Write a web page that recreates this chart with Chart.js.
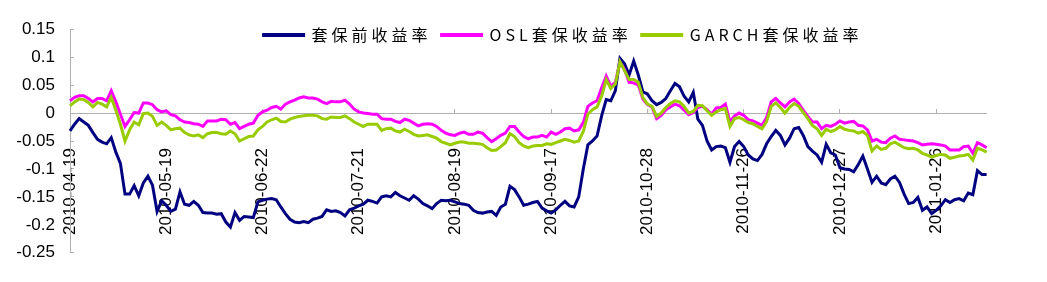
<!DOCTYPE html>
<html>
<head>
<meta charset="utf-8">
<script src="https://cdn.jsdelivr.net/npm/chart.js@4/dist/chart.umd.min.js"></script>
<style>
  html, body { margin: 0; padding: 0; background: #fff; }
  #wrap { width: 1047px; height: 282px; }
</style>
</head>
<body>
<div id="wrap"><canvas id="chart" width="1047" height="282"></canvas></div>
<script>
// x axis: one label every 21 trading days
const tickLabels = ["2010-04-19", "2010-05-19", "2010-06-22", "2010-07-21", "2010-08-19",
  "2010-09-17", "2010-10-28", "2010-11-26", "2010-12-27", "2011-01-26"];
const tickEvery = 21;

const seriesNames = ["套保前收益率", "OSL套保收益率", "GARCH套保收益率"];

const unhedged = [
  -0.032, -0.020, -0.010, -0.016, -0.022, -0.035, -0.047, -0.052, -0.055, -0.044,
  -0.070, -0.090, -0.145, -0.145, -0.130, -0.148, -0.125, -0.113, -0.129, -0.176,
  -0.157, -0.165, -0.176, -0.172, -0.141, -0.163, -0.165, -0.158, -0.165, -0.178,
  -0.179, -0.179, -0.181, -0.180, -0.195, -0.204, -0.178, -0.192, -0.185, -0.186,
  -0.187, -0.159, -0.156, -0.154, -0.153, -0.155, -0.168, -0.180, -0.190, -0.195,
  -0.196, -0.194, -0.196, -0.190, -0.188, -0.185, -0.173, -0.176, -0.175, -0.178,
  -0.184, -0.173, -0.170, -0.166, -0.163, -0.156, -0.158, -0.161, -0.150, -0.148,
  -0.150, -0.142, -0.148, -0.152, -0.156, -0.148, -0.154, -0.162, -0.166, -0.171,
  -0.162, -0.156, -0.157, -0.156, -0.159, -0.162, -0.163, -0.165, -0.174, -0.178,
  -0.179, -0.177, -0.176, -0.183, -0.168, -0.163, -0.131, -0.137, -0.150, -0.165,
  -0.163, -0.160, -0.158, -0.170, -0.175, -0.179, -0.173, -0.165, -0.158, -0.166,
  -0.168, -0.150, -0.100, -0.057, -0.050, -0.041, -0.005, 0.024, 0.022, 0.040,
  0.098, 0.088, 0.068, 0.093, 0.068, 0.038, 0.034, 0.022, 0.015, 0.019,
  0.026, 0.040, 0.053, 0.047, 0.030, 0.020, 0.037, -0.011, -0.022, -0.050,
  -0.066, -0.060, -0.059, -0.062, -0.088, -0.060, -0.051, -0.060, -0.075, -0.082,
  -0.085, -0.074, -0.055, -0.042, -0.031, -0.040, -0.057, -0.045, -0.028, -0.026,
  -0.040, -0.060, -0.068, -0.075, -0.088, -0.056, -0.071, -0.075, -0.098, -0.100,
  -0.101, -0.105, -0.092, -0.077, -0.100, -0.124, -0.113, -0.125, -0.128, -0.118,
  -0.113, -0.124, -0.145, -0.162, -0.160, -0.151, -0.174, -0.168, -0.180, -0.174,
  -0.166, -0.155, -0.160, -0.155, -0.153, -0.157, -0.143, -0.146, -0.103, -0.110,
  -0.110
];

const oslHedged = [
  0.022, 0.028, 0.031, 0.031, 0.026, 0.020, 0.026, 0.026, 0.022, 0.040,
  0.020, -0.002, -0.024, -0.012, 0.001, 0.000, 0.018, 0.018, 0.015, 0.006,
  0.002, 0.004, -0.003, -0.005, -0.012, -0.016, -0.017, -0.019, -0.020, -0.024,
  -0.014, -0.014, -0.014, -0.011, -0.012, -0.020, -0.017, -0.028, -0.024, -0.020,
  -0.018, -0.004, 0.002, 0.005, 0.010, 0.012, 0.007, 0.016, 0.020, 0.023,
  0.027, 0.029, 0.027, 0.027, 0.025, 0.020, 0.017, 0.021, 0.020, 0.020,
  0.023, 0.016, 0.007, 0.002, 0.000, -0.001, -0.002, -0.002, -0.010, -0.011,
  -0.011, -0.015, -0.017, -0.011, -0.013, -0.018, -0.023, -0.020, -0.019, -0.020,
  -0.024, -0.031, -0.036, -0.039, -0.040, -0.036, -0.034, -0.038, -0.038, -0.034,
  -0.036, -0.044, -0.051, -0.046, -0.040, -0.036, -0.024, -0.024, -0.034, -0.042,
  -0.046, -0.043, -0.043, -0.040, -0.043, -0.034, -0.038, -0.034, -0.028, -0.027,
  -0.032, -0.030, -0.017, 0.012, 0.018, 0.022, 0.045, 0.066, 0.048, 0.055,
  0.091, 0.078, 0.055, 0.054, 0.050, 0.025, 0.015, 0.011, -0.010, -0.004,
  0.006, 0.011, 0.016, 0.013, 0.005, -0.003, 0.001, 0.010, 0.012, 0.006,
  -0.002, 0.009, 0.010, 0.016, -0.016, -0.005, 0.000, -0.004, -0.012, -0.014,
  -0.018, -0.022, -0.008, 0.020, 0.026, 0.018, 0.011, 0.020, 0.025, 0.017,
  0.005, -0.006, -0.016, -0.016, -0.028, -0.022, -0.024, -0.020, -0.014, -0.018,
  -0.016, -0.015, -0.022, -0.023, -0.030, -0.050, -0.047, -0.052, -0.053, -0.045,
  -0.041, -0.047, -0.048, -0.049, -0.050, -0.053, -0.057, -0.056, -0.055, -0.056,
  -0.057, -0.059, -0.066, -0.066, -0.066, -0.060, -0.059, -0.072, -0.053, -0.057,
  -0.062
];

const garchHedged = [
  0.013, 0.020, 0.025, 0.024, 0.019, 0.011, 0.019, 0.016, 0.011, 0.028,
  0.005, -0.020, -0.050, -0.030, -0.016, -0.021, -0.001, 0.000, -0.006, -0.022,
  -0.016, -0.022, -0.030, -0.028, -0.027, -0.035, -0.039, -0.041, -0.039, -0.044,
  -0.037, -0.035, -0.035, -0.037, -0.038, -0.032, -0.037, -0.050, -0.046, -0.042,
  -0.041, -0.030, -0.024, -0.016, -0.012, -0.009, -0.015, -0.016, -0.011, -0.008,
  -0.006, -0.005, -0.004, -0.004, -0.005, -0.010, -0.011, -0.007, -0.008, -0.008,
  -0.005, -0.010, -0.016, -0.020, -0.024, -0.020, -0.020, -0.020, -0.031, -0.028,
  -0.027, -0.032, -0.034, -0.029, -0.033, -0.038, -0.041, -0.040, -0.039, -0.042,
  -0.045, -0.051, -0.054, -0.057, -0.054, -0.052, -0.052, -0.054, -0.054, -0.055,
  -0.056, -0.062, -0.067, -0.066, -0.060, -0.053, -0.037, -0.042, -0.053, -0.059,
  -0.062, -0.059, -0.058, -0.058, -0.055, -0.056, -0.053, -0.050, -0.047, -0.049,
  -0.052, -0.050, -0.033, -0.002, 0.006, 0.011, 0.030, 0.060, 0.044, 0.052,
  0.092, 0.076, 0.060, 0.060, 0.055, 0.028, 0.016, 0.012, -0.006, 0.000,
  0.010, 0.017, 0.022, 0.020, 0.012, 0.000, 0.003, 0.014, 0.013, 0.004,
  -0.004, 0.002, 0.006, 0.008, -0.024, -0.010, -0.008, -0.012, -0.017, -0.019,
  -0.024, -0.028, -0.015, 0.012, 0.018, 0.010, 0.000, 0.010, 0.017, 0.012,
  0.001, -0.010, -0.022, -0.028, -0.040, -0.029, -0.033, -0.030, -0.024, -0.029,
  -0.031, -0.032, -0.036, -0.033, -0.040, -0.068, -0.059, -0.065, -0.063, -0.055,
  -0.052, -0.057, -0.062, -0.064, -0.063, -0.066, -0.072, -0.075, -0.079, -0.076,
  -0.074, -0.075, -0.081, -0.079, -0.077, -0.076, -0.074, -0.084, -0.063, -0.066,
  -0.070
];

const seriesColors = ["#000080", "#ff00ff", "#99cc00"];
const axisGray = "#b0b0b0";

const categories = unhedged.map((_, i) => i % tickEvery === 0 ? tickLabels[i / tickEvery] : "");

// legend text is spaced out like the original and overlaps the top of the plot
const legendTweaks = {
  id: "legendTweaks",
  afterInit(chart) {
    const leg = chart.legend;
    const spaced = fn => function (...args) {
      const ctx = this.ctx;
      ctx.letterSpacing = "4px";
      const r = fn.apply(this, args);
      ctx.letterSpacing = "0px";
      return r;
    };
    const fit = spaced(leg.fit);
    leg.fit = function () {
      fit.call(this);
      this.height = 23;
    };
    leg.draw = spaced(leg.draw);
  },
  afterLayout(chart) {
    const leg = chart.legend;
    leg.left = 79;
    leg.right = 1047;
    leg.top = 17;
    leg.bottom = 60;
  }
};

const datasets = [unhedged, oslHedged, garchHedged].map((data, i) => ({
  label: seriesNames[i],
  data: data,
  borderColor: seriesColors[i],
  backgroundColor: seriesColors[i],
  borderWidth: 3,
  pointRadius: 0,
  tension: 0,
  order: 3 - i
}));

new Chart(document.getElementById("chart"), {
  type: "line",
  data: { labels: categories, datasets: datasets },
  plugins: [legendTweaks],
  options: {
    responsive: false,
    animation: false,
    events: [],
    layout: { padding: { left: 0, right: 14, top: 0, bottom: 17 } },
    plugins: {
      tooltip: { enabled: false },
      legend: {
        position: "top",
        align: "center",
        labels: {
          boxWidth: 40,
          boxHeight: 1,
          padding: 10,
          color: "#000",
          font: { family: "'Noto Sans CJK SC', 'Liberation Serif'", size: 16 },
          sort: (a, b) => a.datasetIndex - b.datasetIndex
        }
      }
    },
    scales: {
      x: {
        position: { y: 0 },
        grid: {
          display: true,
          drawOnChartArea: false,
          tickLength: -5,
          color: c => (c.index % tickEvery === 0 ? axisGray : "rgba(0,0,0,0)")
        },
        border: { display: true, color: axisGray, width: 1 },
        ticks: {
          autoSkip: false,
          minRotation: 90,
          maxRotation: 90,
          padding: 40,
          color: "#000",
          font: { family: "'Liberation Sans', Arial", size: 17 },
          callback: function (v) { return this.getLabelForValue(v); }
        }
      },
      y: {
        min: -0.25,
        max: 0.15,
        afterFit: s => { s.width = 70; },
        grid: { display: true, drawOnChartArea: false, tickLength: -4, color: axisGray },
        border: { display: true, color: axisGray, width: 1 },
        ticks: {
          stepSize: 0.05,
          padding: 19,
          color: "#000",
          font: { family: "'Liberation Sans', Arial", size: 17 },
          callback: v => String(+v.toFixed(2))
        }
      }
    }
  }
});
</script>
</body>
</html>
